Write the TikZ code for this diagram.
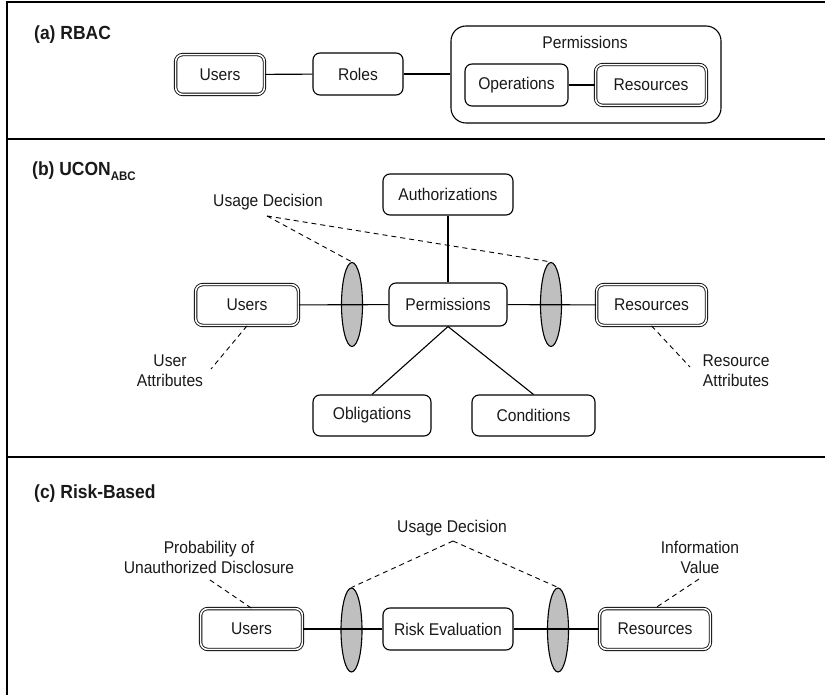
\documentclass[tikz,border=0pt]{standalone}
\usepackage{fontspec}
\setmainfont[FakeStretch=0.92]{Liberation Sans}
\usetikzlibrary{shapes.geometric}
\begin{document}
\begin{tikzpicture}[x=1pt,y=-1pt,
  every node/.style={font=\fontsize{17}{20}\selectfont, text=black!90},
  box/.style={draw, rounded corners=7pt, line width=1.1pt, inner sep=0pt},
  dbox/.style={draw, double, double distance=1.6pt, line width=0.85pt, rounded corners=7pt, inner sep=0pt},
  conn/.style={line width=1.1pt},
  dline/.style={line width=0.9pt, dash pattern=on 5pt off 4pt},
  oval/.style={ellipse, draw, fill=black!25, line width=1.1pt, minimum width=21pt, minimum height=84pt, inner sep=0pt},
  lbl/.style={font=\fontsize{19}{21}\selectfont\bfseries, anchor=west, inner sep=0pt},
  txt/.style={align=center, inner sep=0pt},
  frame/.style={line width=1.5pt}]
\useasboundingbox (0,0) rectangle (825,695);
% frame
\draw[frame] (825,2) -- (7,2) -- (7,695);
\draw[frame] (7,139) -- (825,139);
\draw[frame] (7,457) -- (825,457);

% ---------------- (a) RBAC
\node[lbl] (la) at (34,35) {(a) RBAC};
\node[dbox, minimum width=88.8pt, minimum height=39.8pt] (ua) at (220,74.5) {Users};
\node[box, minimum width=90pt, minimum height=42pt] (ra) at (358,74) {Roles};
\node[draw, rounded corners=15pt, line width=1.1pt, minimum width=270pt, minimum height=97pt] (pa) at (586,74.5) {};
\node[txt] (pta) at (585,42) {Permissions};
\node[box, minimum width=103pt, minimum height=42pt] (oa) at (516.5,85) {Operations};
\node[dbox, minimum width=110.8pt, minimum height=40.8pt] (rsa) at (651,85) {Resources};
\draw[conn] (ua) -- (ra);
\draw[conn] (ra) -- (pa.west |- ra);
\draw[conn] (oa) -- (rsa);

% ---------------- (b) UCON
\node[lbl] (lb) at (32,171) {(b) UCON\raisebox{-0.45ex}{\fontsize{12.5}{12.5}\selectfont ABC}};
\node[box, minimum width=130pt, minimum height=41pt] (authb) at (448,194.5) {Authorizations};
\node[dbox, minimum width=102.8pt, minimum height=40.8pt] (ub) at (247,305) {Users};
\node[oval] (e1b) at (352,304.5) {};
\node[box, minimum width=118pt, minimum height=43pt] (pb) at (448,304.5) {Permissions};
\node[oval] (e2b) at (551,304.5) {};
\node[dbox, minimum width=109.8pt, minimum height=40.8pt] (rb) at (651.5,305) {Resources};
\node[box, minimum width=118pt, minimum height=41pt] (obb) at (372,415.5) {Obligations};
\node[box, minimum width=123pt, minimum height=41pt] (cob) at (533.5,415.5) {Conditions};
\node[txt] (udb) at (268,202) {Usage Decision};
\node[txt] (uab) at (170,370.5) {User\\Attributes};
\node[txt] (rab) at (736,370.5) {Resource\\Attributes};
\coordinate (udbp) at (267,216);
\coordinate (uabp) at (211,369);
\coordinate (rabp) at (690,367);
\draw[conn] (ub) -- (pb);
\draw[conn] (pb) -- (rb);
\draw[conn] (authb) -- (pb);
\draw[conn] (pb.south) -- (obb.north);
\draw[conn] (pb.south) -- (cob.north);
\draw[dline] (udbp) -- (e1b.north);
\draw[dline] (udbp) -- (e2b.north);
\draw[dline] (ub.south) -- (uabp);
\draw[dline] (rb.south) -- (rabp);

% ---------------- (c) Risk-Based
\node[lbl] (lc) at (34,494) {(c) Risk-Based};
\node[dbox, minimum width=101.8pt, minimum height=40.8pt] (uc) at (251.5,629) {Users};
\node[oval] (e1c) at (351.5,630) {};
\node[box, minimum width=130pt, minimum height=42pt] (rec) at (448,629) {Risk Evaluation};
\node[oval] (e2c) at (558,630) {};
\node[dbox, minimum width=110.8pt, minimum height=40.8pt] (rc) at (655,629) {Resources};
\node[txt] (udc) at (452,528) {Usage Decision};
\node[txt] (puc) at (209,557) {Probability of\\Unauthorized Disclosure};
\node[txt] (ivc) at (700,557) {Information\\Value};
\coordinate (udcp) at (453,541);
\coordinate (pucp) at (210,580);
\coordinate (ivcp) at (699,579);
\draw[conn] (uc) -- (rec);
\draw[conn] (rec) -- (rc);
\draw[dline] (udcp) -- (e1c.north);
\draw[dline] (udcp) -- (e2c.north);
\draw[dline] (pucp) -- (uc.north);
\draw[dline] (ivcp) -- (rc.north);
\end{tikzpicture}
\end{document}
